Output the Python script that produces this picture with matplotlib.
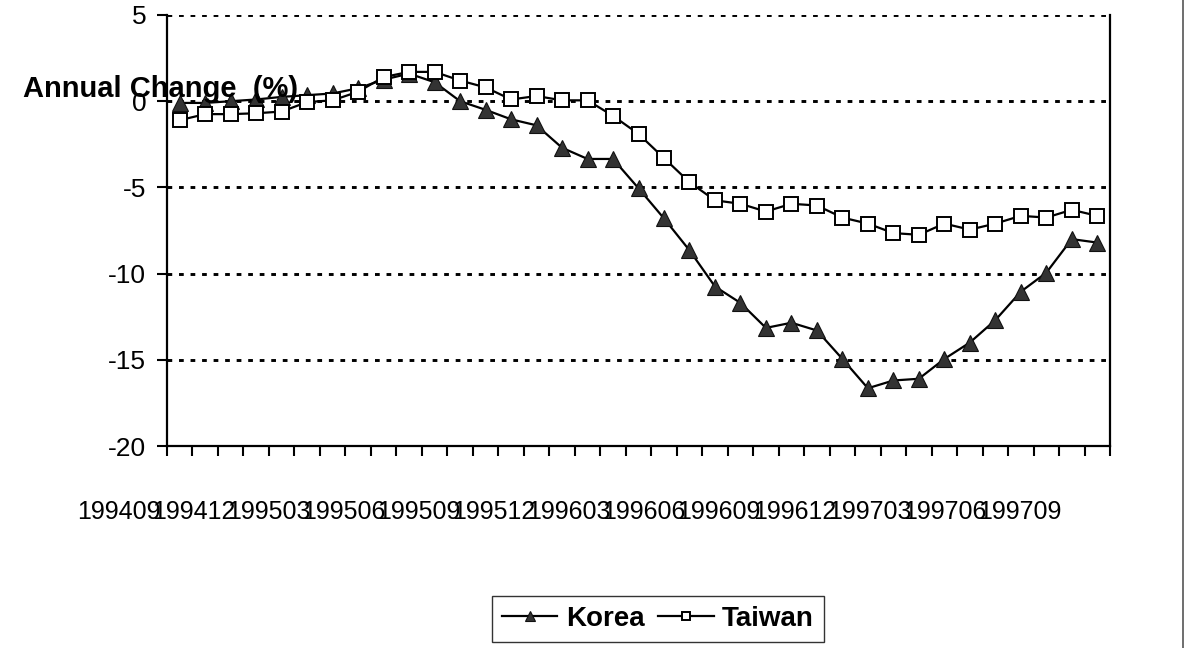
"""Annual change (%) for Korea and Taiwan, monthly 1994-09 to 1997-09."""

import matplotlib

matplotlib.use("Agg")
import matplotlib.pyplot as plt
import matplotlib.transforms as mtransforms
from matplotlib.lines import Line2D

plt.rcParams["font.family"] = ["Liberation Sans", "DejaVu Sans"]
plt.rcParams["lines.scale_dashes"] = False

# 37 months, 199409 .. 199709
months = [f"{1994 + (8 + i) // 12}{(8 + i) % 12 + 1:02d}" for i in range(37)]

korea = [
    -0.1, -0.1, 0.0, 0.1, 0.25, 0.35, 0.45, 0.75, 1.25, 1.6,
    1.1, 0.0, -0.5, -1.05, -1.4, -2.7, -3.35, -3.35, -5.05, -6.8,
    -8.65, -10.75, -11.7, -13.15, -12.85, -13.3, -14.95, -16.65, -16.2, -16.1,
    -14.95, -14.0, -12.7, -11.05, -9.95, -8.0, -8.2,
]
taiwan = [
    -1.1, -0.75, -0.75, -0.7, -0.6, -0.05, 0.05, 0.55, 1.4, 1.7,
    1.7, 1.2, 0.8, 0.1, 0.3, 0.05, 0.05, -0.85, -1.9, -3.3,
    -4.7, -5.75, -5.95, -6.4, -5.95, -6.05, -6.75, -7.1, -7.65, -7.75,
    -7.1, -7.45, -7.1, -6.65, -6.75, -6.3, -6.65,
]

y_ticks = [5, 0, -5, -10, -15, -20]
label_every = 3


def main() -> None:
    fig = plt.figure(figsize=(11.96, 6.48), dpi=100)
    ax = fig.add_axes([167 / 1196, 1 - 446 / 648, (1110 - 167) / 1196, (446 - 15) / 648])

    x = list(range(len(months)))

    for val in y_ticks[:-1]:
        ax.axhline(val, color="black", linewidth=2.1, linestyle=(0, (3.4, 4.9)), zorder=1)

    ax.plot(
        x, korea, color="black", linewidth=1.6, marker="^", markersize=11.5,
        markerfacecolor="#333333", markeredgecolor="#111111", markeredgewidth=0.8,
        label="Korea", zorder=3,
    )
    ax.plot(
        x, taiwan, color="black", linewidth=1.6, marker="s", markersize=9.5,
        markerfacecolor="white", markeredgecolor="black", markeredgewidth=1.4,
        label="Taiwan", zorder=4,
    )

    ax.set_yticks(y_ticks)
    ax.set_yticklabels([str(v) for v in y_ticks])
    ax.tick_params(axis="y", length=7, width=1.5, pad=8, labelsize=19)

    # ticks sit on the category boundaries
    ax.set_xticks([i - 0.5 for i in range(len(months) + 1)])
    ax.set_xticklabels([])
    ax.tick_params(axis="x", length=7, width=1.5, direction="out")
    ax.set_xlim(-0.5, len(months) - 0.5)
    ax.set_ylim(-20, 5)

    # month labels, crowded and shifted left as in the original chart
    trans = mtransforms.blended_transform_factory(ax.transData, fig.transFigure)
    for i in range(0, len(months), label_every):
        ax.text(i - 2.4 - i * 0.018, 1 - 512 / 648, months[i], transform=trans,
                ha="center", va="center", fontsize=18, clip_on=False)

    for side in ("left", "bottom", "right"):
        ax.spines[side].set_linewidth(1.6)
        ax.spines[side].set_color("black")
    ax.spines["top"].set_visible(False)

    fig.text(23 / 1196, 1 - 97 / 648, "Annual Change  (%)", fontsize=21,
             fontweight="bold", va="baseline", ha="left", zorder=10)

    leg = fig.legend(
        loc="center", bbox_to_anchor=(658 / 1196, 1 - 619 / 648), ncol=2,
        frameon=True, fancybox=False, edgecolor="black",
        prop={"weight": "bold", "size": 20}, handlelength=2.0, markerscale=0.6,
        columnspacing=0.5, handletextpad=0.3, borderpad=0.35,
    )
    leg.get_frame().set_linewidth(1.0)

    fig.add_artist(Line2D([1183 / 1196, 1183 / 1196], [0, 1], color="#555555", linewidth=1.2))

    fig.savefig("out.png", dpi=100)
    plt.close(fig)


if __name__ == "__main__":
    main()
